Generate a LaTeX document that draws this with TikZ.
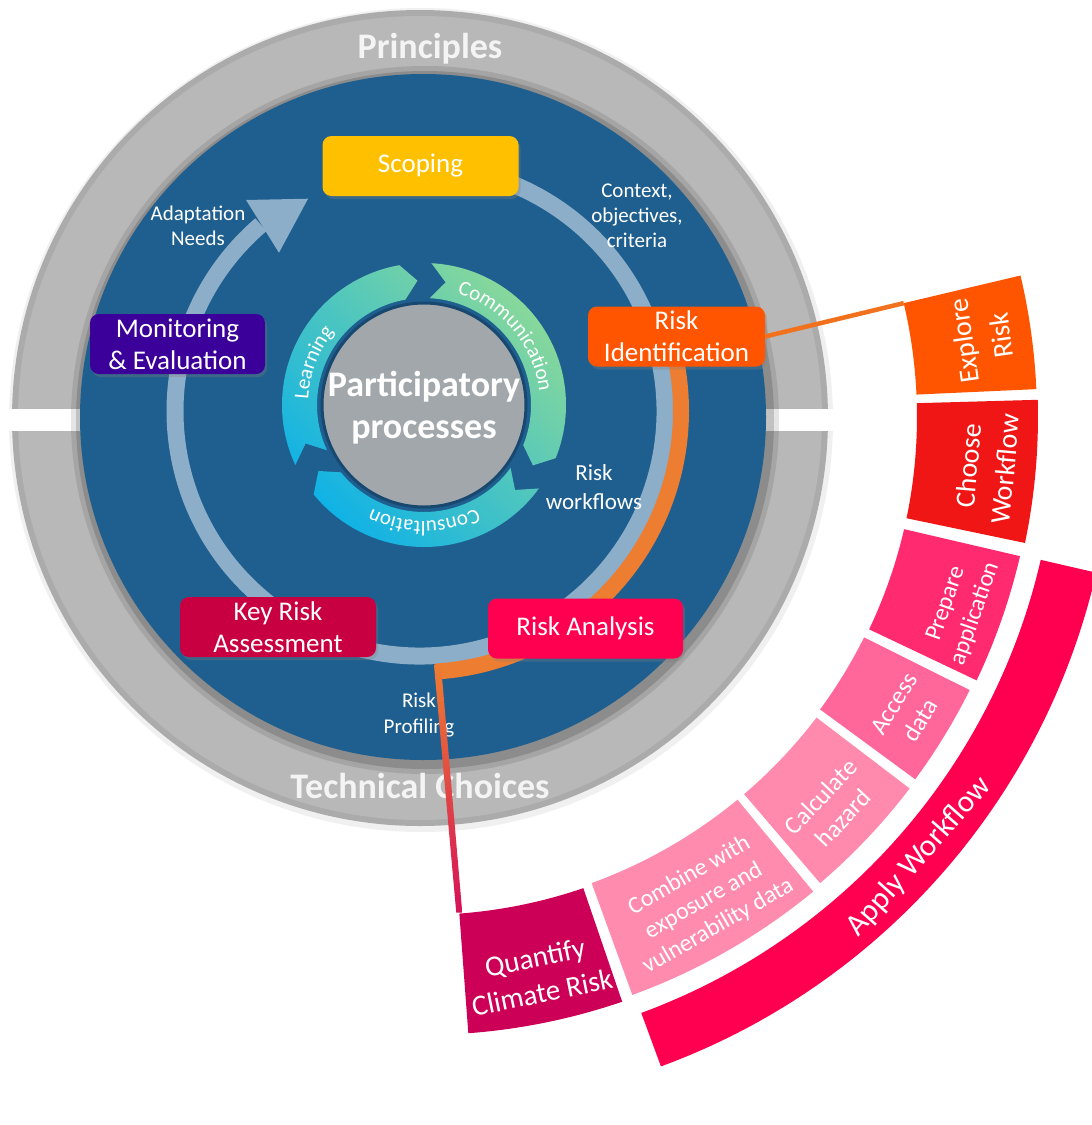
\documentclass[tikz,border=0pt]{standalone}
\usepackage{fontspec}
\setmainfont{Carlito}
\usetikzlibrary{decorations.text,calc,shadows}
\definecolor{rimgray}{HTML}{ABABAB}
\definecolor{ringgray}{HTML}{B8B8B8}
\definecolor{diskblue}{HTML}{1F5F8F}
\definecolor{cyclecol}{HTML}{8CAEC8}
\definecolor{arcorange}{HTML}{ED7D31}
\definecolor{linered}{HTML}{D5125A}
\definecolor{arrcyan}{HTML}{0DB1E8}
\definecolor{arrgreen}{HTML}{88D89A}
\definecolor{partgray}{HTML}{A2A7AC}
\definecolor{partborder}{HTML}{18486F}
\definecolor{titlewhite}{HTML}{F4F4F4}
\definecolor{scopecol}{HTML}{FFC000}
\definecolor{riskidcol}{HTML}{FF5500}
\definecolor{analysiscol}{HTML}{FF0050}
\definecolor{keycol}{HTML}{C80041}
\definecolor{moncol}{HTML}{3A0099}
\definecolor{explorecol}{HTML}{FF5500}
\definecolor{choosecol}{HTML}{F01616}
\definecolor{preparecol}{HTML}{FF2A70}
\definecolor{accesscol}{HTML}{FF6699}
\definecolor{calccol}{HTML}{FF8AAE}
\definecolor{combinecol}{HTML}{FF8BAF}
\definecolor{quantcol}{HTML}{CC0056}
\definecolor{applycol}{HTML}{FF0050}
\definecolor{conncol}{HTML}{F2711C}
\newcommand\annsec[5]{\fill[#1] (#2:#4) arc[start angle=#2, end angle=#3, radius=#4] -- (#3:#5) arc[start angle=#3, end angle=#2, radius=#5] -- cycle;}
\newcommand\arrfont{\fontsize{21}{22}\selectfont}
\begin{document}
\begin{tikzpicture}[x=1pt,y=1pt,
  box/.style={rounded corners=9pt, text=white, align=center, inner sep=0pt, minimum height=60pt, font=\fontsize{27}{32}\selectfont, drop shadow={opacity=0.3, shadow xshift=2pt, shadow yshift=-3pt}},
  lbl/.style={text=white, align=center, inner sep=0pt, font=\fontsize{21}{25.5}\selectfont},
  ttl/.style={text=titlewhite, anchor=base, inner sep=0pt, font=\fontsize{36}{40}\selectfont\bfseries},
  seg/.style={text=white, align=center, inner sep=0pt}]
\useasboundingbox (0,0) rectangle (1092,-1125);
\clip (0,0) rectangle (1092,-1125);
\fill[white] (0,0) rectangle (1092,-1125);
% gray ring
\fill[black, opacity=0.06] (421,-420) circle[radius=412];
\fill[rimgray] (420,-418) circle[radius=408];
\fill[ringgray] (420,-418) circle[radius=402];
\fill[white] (0,-409) rectangle (850,-431);
% shadow and blue disk
\fill[black, opacity=0.10] (425,-420) circle[radius=354];
\fill[black, opacity=0.15] (425,-420) circle[radius=349];
\fill[diskblue] (423,-417) circle[radius=343];
% titles
\node[ttl] (principles) at (430,-58) {Principles};
\node[ttl] (technical) at (420,-798) {Technical Choices};
% cycle ring
\begin{scope}[shift={(420,-411)}]
\draw[cyclecol, line width=17] (100:245) arc[start angle=100, end angle=-229.5, radius=245];
\fill[cyclecol] (129.5:273.5) -- (117.8:240) -- (131.7:212) -- cycle;
\draw[arcorange, line width=16] (18:261) arc[start angle=18, end angle=-86.5, radius=261];
\coordinate (arcend) at (-86.5:261);
\end{scope}
% participatory arrows
\begin{scope}[shift={(424,-405)}]
\shade[top color=arrcyan, bottom color=arrgreen, shading angle=135]
 (205:142) arc[start angle=205, end angle=100, radius=142] -- (93:124.5) -- (100:107) arc[start angle=100, end angle=205, radius=107] -- (198:124.5) -- cycle
 (87:142) arc[start angle=87, end angle=-22, radius=142] -- (-29:124.5) -- (-22:107) arc[start angle=-22, end angle=87, radius=107] -- (80:124.5) -- cycle
 (-36:142) arc[start angle=-36, end angle=-141, radius=142] -- (-148:124.5) -- (-141:107) arc[start angle=-141, end angle=-36, radius=107] -- (-43:124.5) -- cycle;
\filldraw[fill=partgray, draw=partborder, line width=3] (0,0) circle[radius=102];
\path[decorate, decoration={text along path, text align=center, text color=white, text={|\arrfont|Learning}}] (202:116) arc[start angle=202, end angle=116, radius=116];
\path[decorate, decoration={text along path, text align=center, text color=white, text={|\arrfont|Communication}}] (84:116) arc[start angle=84, end angle=-4, radius=116];
\path[decorate, decoration={text along path, text align=center, text color=white, text={|\arrfont|Consultation}}] (-38:116) arc[start angle=-38, end angle=-142, radius=116];
\node[text=white, align=center, inner sep=0pt, font=\fontsize{36}{42}\selectfont\bfseries] (partproc) at (0,-3) {Participatory\\processes};
\end{scope}
% boxes
\node[box, fill=scopecol, minimum width=196pt] (scoping) at (420.5,-166) {Scoping};
\node[box, fill=riskidcol, minimum width=177pt] (riskid) at (676.5,-336.5) {Risk\\Identification};
\node[box, fill=analysiscol, minimum width=195pt] (analysis) at (585.5,-628.5) {Risk Analysis};
\node[box, fill=keycol, minimum width=196pt] (keyrisk) at (278,-627) {Key Risk\\Assessment};
\node[box, fill=moncol, minimum width=175pt] (monitor) at (177.5,-344) {Monitoring\\\& Evaluation};
% labels
\node[lbl] (adapt) at (198,-226) {Adaptation\\Needs};
\node[lbl, font=\fontsize{21}{25}\selectfont] (context) at (637,-216) {Context,\\objectives,\\criteria};
\node[lbl, font=\fontsize{23}{29}\selectfont] (workflows) at (594,-487) {Risk\\workflows};
\node[lbl] (profiling) at (419,-715) {Risk\\Profiling};
% workflow segments
\begin{scope}[shift={(422,-417)}]
\annsec{explorecol}{13.3}{2.6}{495}{615}
\annsec{choosecol}{1.6}{-11.8}{495}{616}
\annsec{preparecol}{-13.1}{-25.4}{495}{614}
\annsec{accesscol}{-26.5}{-36.3}{494}{612}
\annsec{calccol}{-37.3}{-49.5}{496}{613}
\annsec{combinecol}{-50.5}{-70}{496}{615}
\annsec{quantcol}{-71.1}{-85.7}{498}{618}
\annsec{applycol}{-13}{-69.8}{635}{692}
\coordinate (ercorner) at (13.3:495);
\coordinate (qtl) at (-85.7:497);
\node[seg, rotate=98, font=\fontsize{28}{38}\selectfont] (explore) at (8:566) {Explore\\Risk};
\node[seg, rotate=84.9, font=\fontsize{28}{37}\selectfont] (choose) at (-5.1:567) {Choose\\Workflow};
\node[seg, rotate=70.75, font=\fontsize{24}{31}\selectfont] (prepare) at (-19.6:572) {Prepare\\application};
\node[seg, rotate=58.6, font=\fontsize{25}{31}\selectfont] (access) at (-31.3:568) {Access\\data};
\node[seg, rotate=46.6, font=\fontsize{25}{31}\selectfont] (calc) at (-43.6:566) {Calculate\\hazard};
\node[seg, rotate=29.75, font=\fontsize{24}{29}\selectfont] (combine) at (-59.8:560) {Combine with\\exposure and\\vulnerability data};
\node[seg, rotate=11.6, font=\fontsize{29}{36}\selectfont] (quantify) at (-78.2:570) {Quantify\\Climate Risk};
\node[seg, rotate=48.5, font=\fontsize{31}{34}\selectfont] (apply) at (-41.5:664) {Apply Workflow};
\end{scope}
% connectors
\draw[conncol, line width=4.5] (riskid.east) -- (ercorner);
\shade[top color=arcorange, bottom color=linered] ($(arcend)+(-2,7)$) -- ($(arcend)+(5,7)$) -- ($(qtl)+(3,0)$) -- ($(qtl)+(-3,0)$) -- cycle;
\end{tikzpicture}
\end{document}
